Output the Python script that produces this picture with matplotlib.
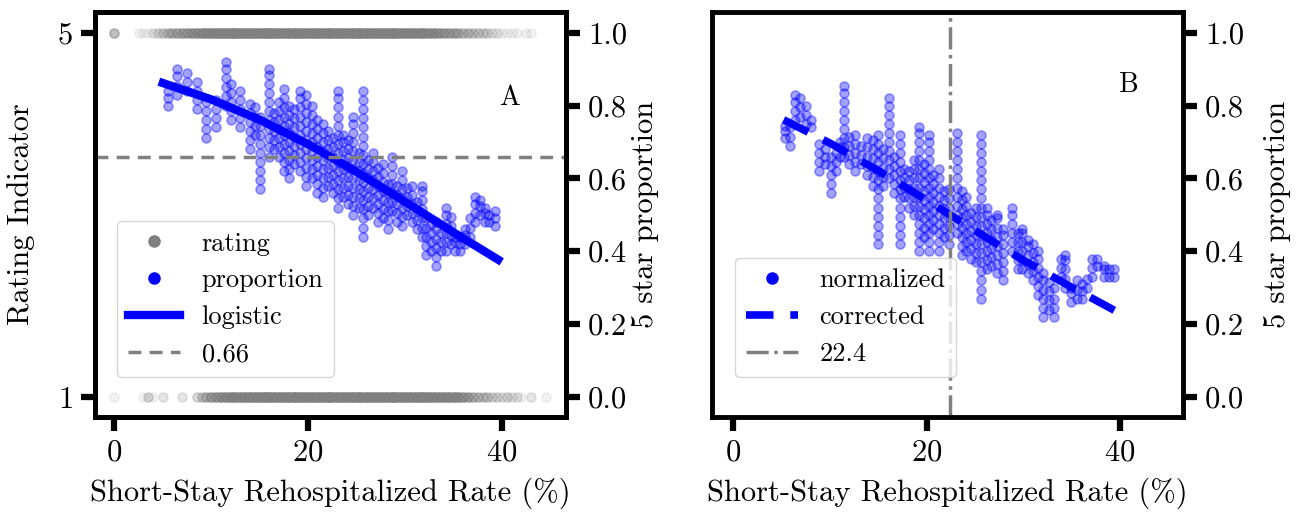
import matplotlib
matplotlib.use('Agg')
import matplotlib.pyplot as plt
from matplotlib.lines import Line2D
import numpy as np

plt.rcParams.update({
    'font.family': 'serif',
    'font.serif': ['cmr10'],
    'mathtext.fontset': 'cm',
    'axes.unicode_minus': False,
    'axes.formatter.use_mathtext': True,
})

# ---------------- data ----------------
# rating points (gray) : x positions and how many facilities overlap there
rating5_x = [0, 2.5, 3, 3.5, 4, 4.5, 5, 5.5, 6, 6.5, 7, 7.5, 8, 8.5, 9,
             9.5, 10, 10.5, 11, 11.5, 12, 12.5, 13, 13.5, 14, 14.5, 15, 15.5,
             16, 16.5, 17, 17.5, 18, 18.5, 19, 19.5, 20, 20.5, 21, 21.5, 22,
             22.5, 23, 23.5, 24, 24.5, 25, 25.5, 26, 26.5, 27, 27.5, 28, 28.5,
             29, 29.5, 30, 30.5, 31, 31.5, 32, 32.5, 33, 33.5, 34, 34.5, 35,
             35.5, 36, 36.5, 37, 37.5, 38, 38.5, 39, 39.5, 40, 40.5, 41, 41.5,
             42.5, 43]
rating5_n = [6, 1, 1, 1, 2, 3, 4, 5, 6, 7, 8, 9, 10, 11, 12,
             14, 16, 17, 18, 18, 18, 18, 18, 18, 18, 18, 18, 18,
             18, 18, 18, 18, 18, 18, 18, 18, 18, 18, 18, 18, 18,
             18, 18, 18, 18, 18, 18, 18, 18, 18, 18, 18, 18, 18,
             17, 17, 16, 16, 15, 14, 14, 12, 12, 10, 9, 8, 7,
             6, 5, 5, 4, 4, 3, 3, 2, 2, 1, 1, 1, 1,
             1, 1]
rating1_x = [0, 3, 3.5, 4, 5, 7, 8.5, 9, 9.5, 10, 10.5, 11, 11.5, 12, 12.5,
             13, 13.5, 14, 14.5, 15, 15.5, 16, 16.5, 17, 17.5, 18, 18.5, 19,
             19.5, 20, 20.5, 21, 21.5, 22, 22.5, 23, 23.5, 24, 24.5, 25, 25.5,
             26, 26.5, 27, 27.5, 28, 28.5, 29, 29.5, 30, 30.5, 31, 31.5, 32,
             32.5, 33, 33.5, 34, 34.5, 35, 35.5, 36, 36.5, 37, 37.5, 38, 38.5,
             39, 39.5, 40, 40.5, 41, 41.5, 42, 43, 44.5]
rating1_n = [1, 1, 3, 1, 2, 2, 3, 4, 6, 8, 10, 12, 13, 14, 15,
             16, 17, 18, 18, 18, 18, 18, 18, 18, 18, 18, 18, 18,
             18, 18, 18, 18, 18, 18, 18, 18, 18, 18, 18, 18, 18,
             18, 18, 18, 18, 18, 18, 18, 18, 18, 18, 18, 18, 18,
             17, 17, 16, 16, 15, 14, 12, 10, 8, 6, 5, 4, 4,
             3, 3, 2, 3, 2, 2, 1, 2, 1]

# 5-star proportion points, panel A (x, list of y values in that column)
propA_cols = [
    (5.5, [0.80, 0.82, 0.84]),
    (6.5, [0.83, 0.855, 0.88, 0.90]),
    (7.5, [0.84, 0.865, 0.89]),
    (8.5, [0.79, 0.815, 0.84, 0.865]),
    (9.5, [0.71, 0.735, 0.76, 0.785, 0.81]),
    (10.5, [0.74, 0.765, 0.79, 0.815]),
    (11.5, [0.80, 0.825, 0.85, 0.875, 0.90, 0.92]),
    (12.0, [0.76, 0.785, 0.81, 0.835, 0.86]),
    (13.0, [0.74, 0.765, 0.79, 0.815, 0.84]),
    (14.0, [0.68, 0.705, 0.73, 0.755, 0.78, 0.805]),
    (14.5, [0.72, 0.745, 0.77, 0.795]),
    (15.0, [0.57, 0.595, 0.62, 0.645, 0.67, 0.695, 0.72, 0.745, 0.77]),
    (16.0, [0.66, 0.685, 0.71, 0.735, 0.76, 0.785, 0.81, 0.835, 0.86, 0.885, 0.90]),
    (16.5, [0.68, 0.705, 0.73, 0.755, 0.78]),
    (17.0, [0.66, 0.685, 0.71, 0.735, 0.76, 0.785, 0.81]),
    (17.5, [0.62, 0.645, 0.67, 0.695, 0.72, 0.745, 0.77, 0.795, 0.82, 0.845]),
    (18.0, [0.60, 0.625, 0.65, 0.675, 0.70, 0.725, 0.75, 0.775, 0.80]),
    (18.5, [0.64, 0.665, 0.69, 0.715, 0.74, 0.765, 0.79]),
    (19.2, [0.62, 0.645, 0.67, 0.695, 0.72, 0.745, 0.77, 0.795, 0.82, 0.84]),
    (19.8, [0.58, 0.605, 0.63, 0.655, 0.68, 0.705, 0.73, 0.755, 0.78, 0.805, 0.83]),
    (20.4, [0.60, 0.625, 0.65, 0.675, 0.70, 0.725, 0.75, 0.775, 0.80]),
    (20.9, [0.56, 0.585, 0.61, 0.635, 0.66, 0.685, 0.71, 0.735, 0.76]),
    (21.5, [0.55, 0.575, 0.60, 0.625, 0.65, 0.675, 0.70, 0.725, 0.75]),
    (22.0, [0.58, 0.605, 0.63, 0.655, 0.68, 0.705, 0.73]),
    (22.6, [0.56, 0.585, 0.61, 0.635, 0.66, 0.685, 0.71]),
    (23.1, [0.52, 0.545, 0.57, 0.595, 0.62, 0.645, 0.67, 0.695, 0.72, 0.745, 0.77, 0.795, 0.82, 0.84]),
    (23.6, [0.55, 0.575, 0.60, 0.625, 0.65, 0.675, 0.70, 0.72]),
    (24.1, [0.53, 0.555, 0.58, 0.605, 0.63, 0.655, 0.68, 0.705]),
    (24.6, [0.50, 0.525, 0.55, 0.575, 0.60, 0.625, 0.65, 0.675, 0.70, 0.725, 0.75, 0.77]),
    (25.2, [0.52, 0.545, 0.57, 0.595, 0.62, 0.645, 0.67]),
    (25.7, [0.44, 0.465, 0.49, 0.515, 0.54, 0.565, 0.59, 0.615, 0.64, 0.665, 0.69,
            0.715, 0.74, 0.765, 0.79, 0.815, 0.84]),
    (26.2, [0.50, 0.525, 0.55, 0.575, 0.60, 0.625, 0.65]),
    (26.7, [0.52, 0.545, 0.57, 0.595, 0.62, 0.645, 0.67]),
    (27.2, [0.48, 0.505, 0.53, 0.555, 0.58, 0.605, 0.63]),
    (27.7, [0.49, 0.515, 0.54, 0.565, 0.59, 0.615, 0.64]),
    (28.2, [0.46, 0.485, 0.51, 0.535, 0.56, 0.585]),
    (28.7, [0.51, 0.535, 0.56, 0.585, 0.61, 0.635, 0.66]),
    (29.2, [0.48, 0.505, 0.53, 0.555, 0.58]),
    (29.7, [0.47, 0.495, 0.52, 0.545, 0.57, 0.595, 0.62]),
    (30.2, [0.50, 0.525, 0.55, 0.575]),
    (30.7, [0.48, 0.505, 0.53, 0.555, 0.58]),
    (31.2, [0.46, 0.485, 0.51, 0.535]),
    (31.7, [0.44, 0.465, 0.49, 0.515, 0.54, 0.565, 0.58]),
    (32.2, [0.39, 0.415, 0.44, 0.465, 0.49]),
    (32.7, [0.40, 0.425, 0.45, 0.475]),
    (33.2, [0.36, 0.385, 0.41, 0.435, 0.46, 0.48]),
    (33.7, [0.40, 0.425, 0.45]),
    (34.2, [0.40, 0.425, 0.45, 0.475, 0.50, 0.52]),
    (34.7, [0.42, 0.445, 0.47, 0.495]),
    (35.2, [0.40, 0.425, 0.44]),
    (35.7, [0.40, 0.42, 0.44]),
    (36.2, [0.42, 0.445, 0.46]),
    (36.7, [0.44, 0.465, 0.49]),
    (37.2, [0.48, 0.505, 0.53, 0.55]),
    (37.7, [0.50, 0.525, 0.54]),
    (38.2, [0.48, 0.505, 0.52]),
    (38.7, [0.48, 0.50]),
    (39.3, [0.47, 0.49, 0.51]),
]

# normalized proportion points, panel B
propB_cols = [
    (5.3, [0.71, 0.73, 0.745]),
    (5.9, [0.69, 0.715, 0.74]),
    (6.4, [0.76, 0.785, 0.81, 0.83]),
    (6.9, [0.77, 0.795, 0.82]),
    (7.5, [0.75, 0.775, 0.80]),
    (8.0, [0.74, 0.76]),
    (8.9, [0.62, 0.645, 0.67, 0.695]),
    (9.5, [0.64, 0.66, 0.68]),
    (10.1, [0.56, 0.585, 0.61, 0.635, 0.66]),
    (10.6, [0.62, 0.645, 0.67]),
    (11.0, [0.66, 0.685, 0.70]),
    (11.4, [0.66, 0.685, 0.71, 0.735, 0.76, 0.785, 0.81, 0.835, 0.855]),
    (12.0, [0.64, 0.665, 0.69, 0.715]),
    (12.6, [0.62, 0.645, 0.67, 0.695, 0.72]),
    (13.2, [0.64, 0.665, 0.69]),
    (13.8, [0.61, 0.635, 0.66, 0.685, 0.71]),
    (14.4, [0.58, 0.605, 0.63, 0.655, 0.68, 0.705]),
    (15.0, [0.42, 0.445, 0.47, 0.495, 0.52, 0.545, 0.57, 0.595, 0.62, 0.645, 0.67, 0.695, 0.72]),
    (15.5, [0.58, 0.605, 0.63, 0.655, 0.68]),
    (16.1, [0.60, 0.625, 0.65, 0.675, 0.70, 0.725, 0.75, 0.775, 0.80, 0.82]),
    (16.6, [0.56, 0.585, 0.61, 0.635, 0.66]),
    (17.2, [0.42, 0.445, 0.47, 0.495, 0.52, 0.545, 0.57, 0.595, 0.62, 0.645, 0.67, 0.695, 0.72]),
    (17.7, [0.55, 0.575, 0.60, 0.625]),
    (18.2, [0.52, 0.545, 0.57, 0.595, 0.62]),
    (18.7, [0.50, 0.525, 0.55, 0.575, 0.60, 0.625, 0.65]),
    (19.2, [0.40, 0.425, 0.45, 0.475, 0.50, 0.525, 0.55, 0.575, 0.60, 0.625, 0.65, 0.675, 0.70, 0.725, 0.74]),
    (19.7, [0.44, 0.465, 0.49, 0.515, 0.54, 0.565, 0.59, 0.615, 0.64]),
    (20.2, [0.40, 0.425, 0.45, 0.475, 0.50, 0.525, 0.55, 0.575, 0.60, 0.625, 0.65, 0.675, 0.70, 0.72]),
    (20.7, [0.46, 0.485, 0.51, 0.535, 0.56, 0.585, 0.61]),
    (21.3, [0.40, 0.425, 0.45, 0.475, 0.50, 0.525, 0.55, 0.575, 0.60, 0.625]),
    (21.8, [0.44, 0.465, 0.49, 0.515, 0.54, 0.565]),
    (22.3, [0.42, 0.445, 0.47, 0.495, 0.52, 0.545, 0.57]),
    (23.1, [0.45, 0.475, 0.50, 0.525, 0.55, 0.575, 0.60, 0.625, 0.65, 0.675, 0.70, 0.725]),
    (23.6, [0.39, 0.415, 0.44, 0.465, 0.49, 0.515, 0.54, 0.565]),
    (24.1, [0.40, 0.425, 0.45, 0.475, 0.50, 0.525, 0.55]),
    (24.6, [0.38, 0.405, 0.43, 0.455, 0.48, 0.505]),
    (25.1, [0.37, 0.395, 0.42, 0.445, 0.47, 0.495, 0.52]),
    (25.6, [0.27, 0.295, 0.32, 0.345, 0.37, 0.395, 0.42, 0.445, 0.47, 0.495, 0.52,
            0.545, 0.57, 0.595, 0.62, 0.645, 0.67, 0.695, 0.72]),
    (26.2, [0.35, 0.375, 0.40, 0.425, 0.45, 0.475, 0.50, 0.52]),
    (26.7, [0.36, 0.385, 0.41, 0.435, 0.46, 0.485]),
    (27.3, [0.34, 0.365, 0.39, 0.415, 0.44, 0.465, 0.49, 0.50]),
    (27.9, [0.32, 0.345, 0.37, 0.395, 0.42, 0.445, 0.46]),
    (28.8, [0.40, 0.425, 0.45, 0.475, 0.50, 0.52]),
    (29.4, [0.35, 0.375, 0.40, 0.425, 0.45]),
    (29.9, [0.35, 0.375, 0.40, 0.425, 0.45, 0.46]),
    (30.5, [0.34, 0.365, 0.39, 0.415, 0.43]),
    (31.0, [0.32, 0.345, 0.37, 0.395, 0.42]),
    (31.5, [0.28, 0.305, 0.33, 0.355, 0.38, 0.40]),
    (32.0, [0.22, 0.245, 0.27, 0.295, 0.32, 0.34]),
    (32.6, [0.24, 0.265, 0.29, 0.315]),
    (33.2, [0.22, 0.245, 0.27, 0.30]),
    (33.9, [0.33, 0.355, 0.38]),
    (34.3, [0.30, 0.325, 0.35, 0.375, 0.39]),
    (34.9, [0.26, 0.285, 0.30]),
    (35.5, [0.27, 0.295, 0.32]),
    (36.1, [0.27, 0.29, 0.31]),
    (36.6, [0.30, 0.325]),
    (37.1, [0.33, 0.355, 0.38]),
    (37.6, [0.36, 0.38]),
    (38.3, [0.33, 0.35, 0.36]),
    (38.9, [0.33, 0.35]),
    (39.4, [0.33, 0.35]),
]

# fitted curves
logistic_x = [5.0, 10.0, 15.0, 20.0, 25.0, 30.0, 35.0, 39.6]
logistic_y = [0.862, 0.817, 0.761, 0.694, 0.618, 0.536, 0.452, 0.377]
corrected_x = [5.2, 10.0, 15.0, 20.0, 25.0, 30.0, 35.0, 39.4]
corrected_y = [0.761, 0.697, 0.621, 0.540, 0.457, 0.375, 0.301, 0.238]
threshold_prop = 0.66
threshold_rate = 22.4

# ---------------- drawing ----------------
BLUE = '#0000ff'
GRAY = '#808080'
SPINE_LW = 3.5
TICK_FS = 22
LABEL_FS = 22
LEG_FS = 19
PT_SIZE = 42
BLUE_ALPHA = 0.36


def flatten(cols):
    xs, ys = [], []
    for x, col in cols:
        for y in col:
            xs.append(x)
            ys.append(y)
    return np.array(xs), np.array(ys)


def style_axes(ax):
    for sp in ax.spines.values():
        sp.set_linewidth(SPINE_LW)
    ax.tick_params(axis='both', which='major', direction='out', length=10,
                   width=4.5, labelsize=TICK_FS, pad=6)


fig = plt.figure(figsize=(12.99, 5.14), dpi=100)

# ---- Panel A ----
axA = fig.add_axes([0.0731, 0.1887, 0.3626, 0.788])
r5x = np.repeat(rating5_x, rating5_n)
r1x = np.repeat(rating1_x, rating1_n)
axA.scatter(r5x, np.full(len(r5x), 5.0), s=PT_SIZE, color=GRAY, alpha=0.1, linewidths=1.2)
axA.scatter(r1x, np.full(len(r1x), 1.0), s=PT_SIZE, color=GRAY, alpha=0.1, linewidths=1.2)
axA.set_xlim(-2.0, 46.6)
axA.set_ylim(0.78, 5.23)
axA.set_yticks([1, 5])
axA.set_xticks([0, 20, 40])
axA.set_ylabel('Rating Indicator', fontsize=LABEL_FS, labelpad=16)
axA.set_xlabel('Short-Stay Rehospitalized Rate (%)', fontsize=LABEL_FS, labelpad=8)
style_axes(axA)

axA2 = axA.twinx()
ax_, ay_ = flatten(propA_cols)
axA2.scatter(ax_, ay_, s=PT_SIZE, color=BLUE, alpha=BLUE_ALPHA, linewidths=1.2)
axA2.plot(logistic_x, logistic_y, color=BLUE, lw=6)
axA2.axhline(threshold_prop, color=GRAY, lw=2.5, ls=(0, (3.7, 2.4)))
axA2.set_ylim(-0.055, 1.057)
axA2.set_yticks([0.0, 0.2, 0.4, 0.6, 0.8, 1.0])
axA2.set_yticklabels(['0.0', '0.2', '0.4', '0.6', '0.8', '1.0'])
axA2.set_ylabel('5 star proportion', fontsize=LABEL_FS, labelpad=3)
style_axes(axA2)
axA2.text(40.8, 0.82, 'A', fontsize=20, ha='center', va='center')

handlesA = [
    Line2D([], [], marker='o', ls='none', color=GRAY, markersize=8),
    Line2D([], [], marker='o', ls='none', color=BLUE, markersize=8),
    Line2D([], [], color=BLUE, lw=6),
    Line2D([], [], color=GRAY, lw=2.5, ls=(0, (3.7, 2.4))),
]
axA2.legend(handlesA, ['rating', 'proportion', 'logistic', '0.66'],
            loc='lower left', bbox_to_anchor=(0.047, 0.099), borderaxespad=0,
            fontsize=LEG_FS)

# ---- Panel B ----
axB = fig.add_axes([0.5481, 0.1887, 0.3626, 0.788])
bx_, by_ = flatten(propB_cols)
axB.scatter(bx_, by_, s=PT_SIZE, color=BLUE, alpha=BLUE_ALPHA, linewidths=1.2)
axB.plot(corrected_x, corrected_y, color=BLUE, lw=5.5, ls=(0, (3.6, 2.2)))
axB.axvline(threshold_rate, color=GRAY, lw=2.5, ls='-.')
axB.set_xlim(-2.2, 46.5)
axB.set_ylim(-0.055, 1.057)
axB.set_xticks([0, 20, 40])
axB.set_yticks([0.0, 0.2, 0.4, 0.6, 0.8, 1.0])
axB.set_yticklabels(['0.0', '0.2', '0.4', '0.6', '0.8', '1.0'])
axB.yaxis.tick_right()
axB.yaxis.set_label_position('right')
axB.set_ylabel('5 star proportion', fontsize=LABEL_FS, labelpad=14)
axB.set_xlabel('Short-Stay Rehospitalized Rate (%)', fontsize=LABEL_FS, labelpad=8)
style_axes(axB)
axB.text(40.9, 0.857, 'B', fontsize=20, ha='center', va='center')

handlesB = [
    Line2D([], [], marker='o', ls='none', color=BLUE, markersize=8),
    Line2D([], [], color=BLUE, lw=5.5, ls=(0, (3.6, 2.2))),
    Line2D([], [], color=GRAY, lw=2.5, ls='-.'),
]
axB.legend(handlesB, ['normalized', 'corrected', '22.4'],
           loc='lower left', bbox_to_anchor=(0.049, 0.099), borderaxespad=0,
           fontsize=LEG_FS)

fig.savefig('out.png', dpi=100)
